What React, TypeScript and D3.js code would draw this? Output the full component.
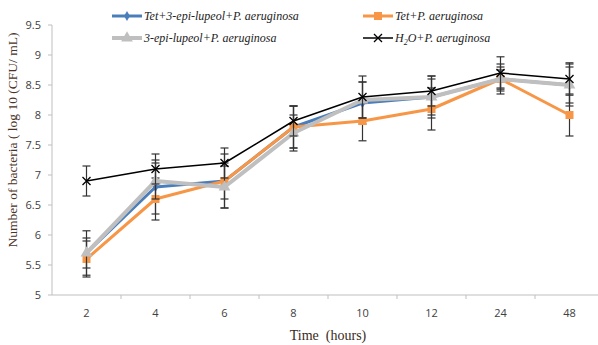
import * as d3 from 'd3'

const hours = ['2', '4', '6', '8', '10', '12', '24', '48']
const yTicks = [5, 5.5, 6, 6.5, 7, 7.5, 8, 8.5, 9, 9.5]

const tetEpi = [5.7, 6.8, 6.9, 7.8, 8.2, 8.3, 8.6, 8.5]
const tetEpiErr = [0.37, 0.45, 0.3, 0.35, 0.35, 0.35, 0.25, 0.35]
const tet = [5.6, 6.6, 6.9, 7.8, 7.9, 8.1, 8.6, 8.0]
const tetErr = [0.3, 0.35, 0.45, 0.35, 0.33, 0.35, 0.15, 0.35]
const epi = [5.7, 6.9, 6.8, 7.7, 8.25, 8.3, 8.6, 8.5]
const epiErr = [0.25, 0.3, 0.35, 0.3, 0.3, 0.3, 0.2, 0.3]
const water = [6.9, 7.1, 7.2, 7.9, 8.3, 8.4, 8.7, 8.6]
const waterErr = [0.25, 0.25, 0.25, 0.25, 0.35, 0.25, 0.27, 0.27]

type Marker = 'diamond' | 'square' | 'triangle' | 'cross'

const series = [
  { name: 'tetEpi', values: tetEpi, err: tetEpiErr, color: '#4a7ebb', width: 3, marker: 'diamond' as Marker },
  { name: 'tet', values: tet, err: tetErr, color: '#f79646', width: 3, marker: 'square' as Marker },
  { name: 'epi', values: epi, err: epiErr, color: '#bfbfbf', width: 4, marker: 'triangle' as Marker },
  { name: 'water', values: water, err: waterErr, color: '#000000', width: 1.5, marker: 'cross' as Marker },
]

const left = 52
const right = 604
const top = 25
const bottom = 295

const x = d3.scaleBand<string>().domain(hours).range([left, right])
const y = d3.scaleLinear().domain([5, 9.5]).range([bottom, top])

const markerPath = (m: Marker) => {
  if (m === 'diamond') return d3.symbol(d3.symbolDiamond, 30)()
  if (m === 'square') return d3.symbol(d3.symbolSquare, 64)()
  if (m === 'triangle') return d3.symbol(d3.symbolTriangle, 60)()
  return 'M-4,-4L4,4M-4,4L4,-4'
}

const LegendItem = ({ s, lx, ly, children }: any) => (
  <g transform={`translate(${lx},${ly})`}>
    <line x1={0} x2={30} y1={0} y2={0} stroke={s.color} strokeWidth={s.width} />
    <path
      d={markerPath(s.marker) || ''}
      transform="translate(15,0)"
      fill={s.marker === 'cross' ? 'none' : s.color}
      stroke={s.color}
      strokeWidth={s.marker === 'cross' ? 1.3 : 0}
    />
    <text x={32} y={4} fontFamily="Liberation Serif" fontStyle="italic" fontSize={12} fill="#222">
      {children}
    </text>
  </g>
)

export default function App() {
  const cx = (h: string) => (x(h) ?? 0) + x.bandwidth() / 2
  const line = (vals: number[]) =>
    d3
      .line<number>()
      .x((_, i) => cx(hours[i]))
      .y(d => y(d))(vals) || ''

  return (
    <svg width={598} height={345} style={{ position: 'absolute', left: 0, top: 0, background: '#fff' }}>
      {/* axes */}
      <line x1={left} x2={left} y1={top} y2={bottom} stroke="#bfbfbf" />
      <line x1={left} x2={right} y1={bottom} y2={bottom} stroke="#bfbfbf" />
      {yTicks.map(t => (
        <g key={t}>
          <line x1={left - 4} x2={left} y1={y(t)} y2={y(t)} stroke="#bfbfbf" />
          <text x={left - 11} y={y(t) + 4} textAnchor="end" fontFamily="Open Sans" fontSize={11} fill="#404040">
            {t}
          </text>
        </g>
      ))}
      {hours.map((h, i) => (
        <g key={h}>
          {i > 0 && <line x1={x(h)} x2={x(h)} y1={bottom} y2={bottom + 4} stroke="#bfbfbf" />}
          <text x={cx(h)} y={bottom + 22} textAnchor="middle" fontFamily="Open Sans" fontSize={11} fill="#404040">
            {h}
          </text>
        </g>
      ))}
      <text
        transform="translate(17,140) rotate(-90)"
        textAnchor="middle"
        fontFamily="Liberation Serif"
        fontSize={13.5}
        fill="#4a3328"
      >
        Number of bacteria ( log 10 (CFU/ mL)
      </text>
      <text
        x={328}
        y={340}
        textAnchor="middle"
        fontFamily="Liberation Serif"
        fontSize={14}
        fill="#3a2a20"
        style={{ whiteSpace: 'pre' }}
      >
        {'Time  (hours)'}
      </text>

      {/* series */}
      {series.map(s => (
        <g key={s.name}>
          <path d={line(s.values)} fill="none" stroke={s.color} strokeWidth={s.width} strokeLinejoin="round" />
          {s.values.map((v, i) => {
            const px = cx(hours[i])
            const y1 = y(v + s.err[i])
            const y2 = y(v - s.err[i])
            return (
              <g key={i} stroke="#333" strokeWidth={1.2}>
                <line x1={px} x2={px} y1={y1} y2={y2} />
                <line x1={px - 4} x2={px + 4} y1={y1} y2={y1} />
                <line x1={px - 4} x2={px + 4} y1={y2} y2={y2} />
              </g>
            )
          })}
          {s.values.map((v, i) => (
            <path
              key={i}
              d={markerPath(s.marker) || ''}
              transform={`translate(${cx(hours[i])},${y(v)})`}
              fill={s.marker === 'cross' ? 'none' : s.color}
              stroke={s.color}
              strokeWidth={s.marker === 'cross' ? 1.3 : 0}
            />
          ))}
        </g>
      ))}

      {/* legend */}
      <LegendItem s={series[0]} lx={112} ly={16}>Tet+3-epi-lupeol+P. aeruginosa</LegendItem>
      <LegendItem s={series[1]} lx={363} ly={16}>Tet+P. aeruginosa</LegendItem>
      <LegendItem s={series[2]} lx={112} ly={38}>3-epi-lupeol+P. aeruginosa</LegendItem>
      <LegendItem s={series[3]} lx={363} ly={38}>
        H<tspan fontSize={8} dy={3}>2</tspan>
        <tspan dy={-3}>O+P. aeruginosa</tspan>
      </LegendItem>
    </svg>
  )
}
